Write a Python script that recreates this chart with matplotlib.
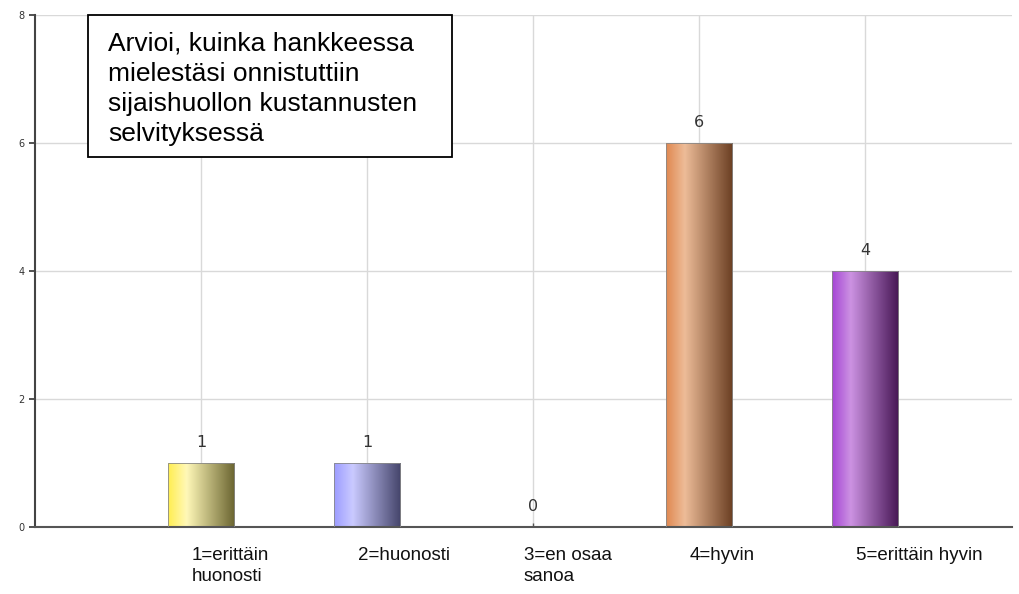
import numpy as np
import matplotlib.pyplot as plt
from matplotlib.colors import LinearSegmentedColormap
from matplotlib.patches import Rectangle

# --- Data ---
categories = ["1=erittäin\nhuonosti", "2=huonosti", "3=en osaa\nsanoa", "4=hyvin", "5=erittäin hyvin"]
counts = [1, 1, 0, 6, 4]
title = "Arvioi, kuinka hankkeessa\nmielestäsi onnistuttiin\nsijaishuollon kustannusten\nselvityksessä"

# gradient stops per bar: (left, highlight, right)
bar_grads = [
    ("#FFEE50", "#FFF8B8", "#6A6430"),
    ("#9C9CFF", "#CACAFF", "#44446A"),
    ("#CCCCCC", "#EEEEEE", "#666666"),
    ("#E08850", "#EDBC98", "#6A3E22"),
    ("#A545D5", "#CC92E2", "#461654"),
]

fig = plt.figure(figsize=(10.19, 5.94), dpi=100)
ax = fig.add_axes([35 / 1019, 67 / 594, 977 / 1019, 512 / 594])

x = np.arange(1, len(counts) + 1)
width = 0.4

ax.set_xlim(0, 977 / 166)
ax.set_ylim(0, 8)

# grid
for yv in [2, 4, 6, 8]:
    ax.axhline(yv, color="#D9D9D9", lw=1, zorder=0)
for xv in x:
    ax.axvline(xv, color="#D9D9D9", lw=1, zorder=0)

grad = np.linspace(0, 1, 256).reshape(1, -1)
for xi, v, stops in zip(x, counts, bar_grads):
    if v <= 0:
        continue
    cmap = LinearSegmentedColormap.from_list("g", [(0, stops[0]), (0.28, stops[1]), (1, stops[2])])
    bars = ax.bar(xi, v, width=width, color="none", edgecolor="#888888", lw=0.6, zorder=3)
    im = ax.imshow(grad, cmap=cmap, aspect="auto", zorder=2,
                   extent=[xi - width / 2, xi + width / 2, 0, v], interpolation="bilinear")
    im.set_clip_path(bars[0])

ax.set_xlim(0, 977 / 166)
ax.set_ylim(0, 8)

# value labels
for xi, v in zip(x, counts):
    ax.text(xi, v + 0.2, str(v), ha="center", va="bottom", fontsize=11.5,
            color="#333333", family="DejaVu Sans", zorder=4)

# category labels below axis
for xi, lab in zip(x, categories):
    ax.text(xi - 0.055, -0.31, lab, ha="left", va="top", fontsize=13.5,
            family="Liberation Sans", color="#111111", linespacing=1.3)

ax.set_xticks(x)
ax.set_xticklabels([])
ax.set_yticks([0, 2, 4, 6, 8])
ax.tick_params(axis="y", labelsize=7, colors="#333333", length=4, width=1.2)
ax.tick_params(axis="x", length=3, width=1, colors="#555555", direction="in")
for s in ["top", "right"]:
    ax.spines[s].set_visible(False)
ax.spines["left"].set_color("#444444")
ax.spines["left"].set_linewidth(1.5)
ax.spines["bottom"].set_color("#555555")
ax.spines["bottom"].set_linewidth(1.5)

# title box
fig.patches.append(Rectangle((88 / 1019, 1 - 157 / 594), 364 / 1019, 142 / 594,
                             transform=fig.transFigure, facecolor="white",
                             edgecolor="black", lw=1.3, zorder=5))
fig.text(108 / 1019, 1 - 32 / 594, title, ha="left", va="top", fontsize=19,
         family="Liberation Sans", linespacing=1.32, zorder=6)

fig.savefig("out.png", dpi=100)
